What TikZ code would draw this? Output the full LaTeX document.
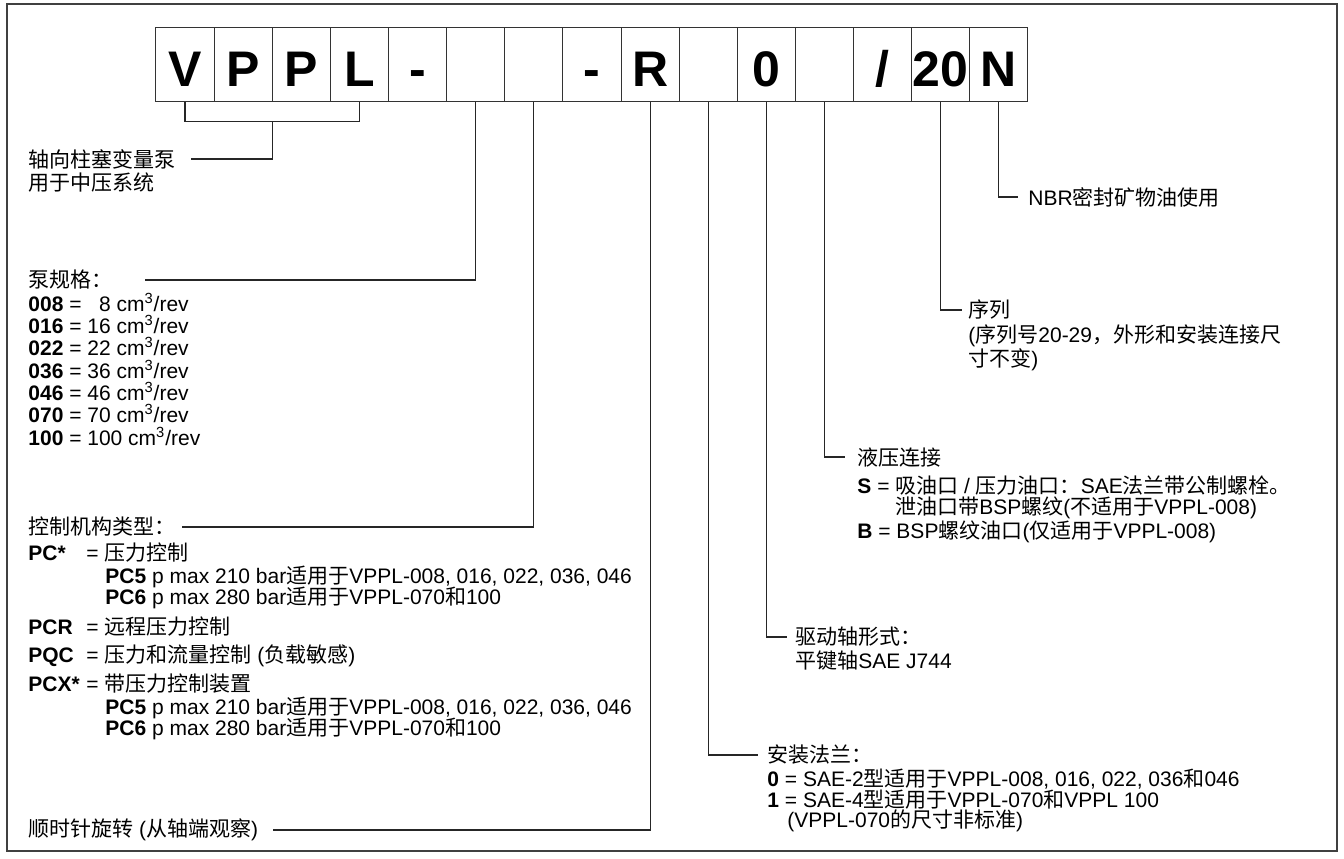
\documentclass[tikz,border=0pt]{standalone}
\usepackage{fontspec}
\setmainfont{Liberation Sans}
\newfontfamily\cjk{Noto Sans CJK SC}
\usetikzlibrary{positioning}

% switch to the CJK font for Han characters and full-width punctuation
\XeTeXinterchartokenstate=1
\newXeTeXintercharclass\hanzi
\makeatletter
\def\sethanzi#1#2{\count@=#1\relax
  \loop\XeTeXcharclass\count@=\hanzi\relax
  \ifnum\count@<#2\relax\advance\count@\@ne\repeat}
\sethanzi{"3000}{"303F}
\sethanzi{"4E00}{"9FFF}
\sethanzi{"FF00}{"FFEF}
\makeatother
\XeTeXinterchartoks 0 \hanzi = {\cjk}
\XeTeXinterchartoks 4095 \hanzi = {\cjk}
\XeTeXinterchartoks \hanzi 0 = {\rmfamily}
\XeTeXinterchartoks \hanzi 4095 = {\rmfamily}

\newcommand\ctl[1]{\makebox[29pt][l]{\textbf{#1}}}

\begin{document}
\begin{tikzpicture}[x=0.5pt, y=-0.5pt,
    codebox/.style={draw=black!80, line width=0.5pt, minimum width=29.07pt,
      minimum height=37pt, inner sep=0pt, text height=22pt, text depth=0pt,
      font=\fontsize{25}{25}\selectfont\bfseries},
    txt/.style={anchor=west, inner sep=0pt, font=\fontsize{10.5}{12}\selectfont},
    lead/.style={draw=black!85, line width=0.6pt}]

        \useasboundingbox (0,0) rectangle (1344,858);
        \draw[black!75, line width=0.8pt] (7,4) rectangle (1337,851);

        \foreach \c [count=\i] in {V,P,P,L,-,{},{},-,R,{},0,{},/,20,N}
            \node[codebox] (b\i) at ({156+58.13*(\i-0.5)}, 64) {\c};

        \node[txt] (pump) at (28,159) {轴向柱塞变量泵};
        \node[txt] (pumpb) at (28,183) {用于中压系统};

        \node[txt] (spec) at (28,280) {泵规格：};
        \foreach \n/\v [count=\k] in {008/\hphantom{1}8, 016/16, 022/22, 036/36, 046/46, 070/70, 100/100}
            \node[txt] (spec\k) at (28, {280+22.3*\k}) {\textbf{\n} = \v\ cm\textsuperscript{3}/rev};

        \node[txt] (ctrl) at (28,527) {控制机构类型：};
        \node[txt] (pc) at (28,553) {\ctl{PC*}= 压力控制};
        \node[txt] (pc5) at (105,577) {\textbf{PC5} p max 210 bar适用于VPPL-008, 016, 022, 036, 046};
        \node[txt] (pc6) at (105,598) {\textbf{PC6} p max 280 bar适用于VPPL-070和100};
        \node[txt] (pcr) at (28,627) {\ctl{PCR}= 远程压力控制};
        \node[txt] (pqc) at (28,656) {\ctl{PQC}= 压力和流量控制 (负载敏感)};
        \node[txt] (pcx) at (28,684) {\ctl{PCX*}= 带压力控制装置};
        \node[txt] (pcx5) at (105,708) {\textbf{PC5} p max 210 bar适用于VPPL-008, 016, 022, 036, 046};
        \node[txt] (pcx6) at (105,729) {\textbf{PC6} p max 280 bar适用于VPPL-070和100};

        \node[txt] (rot) at (28,830) {顺时针旋转 (从轴端观察)};

        \node[txt] (nbr) at (1028,197) {NBR密封矿物油使用};

        \node[txt] (ser) at (968,310) {序列};
        \node[txt] (ser2) at (968,336) {(序列号20-29，外形和安装连接尺};
        \node[txt] (ser3) at (968,360) {寸不变)};

        \node[txt] (hyd) at (857,457) {液压连接};
        \node[txt] (hyds) at (857,486) {\textbf{S} = 吸油口 / 压力油口：SAE法兰带公制螺栓。};
        \node[txt] (hyds2) at (857,508) {\hphantom{\textbf{S} = }泄油口带BSP螺纹(不适用于VPPL-008)};
        \node[txt] (hydb) at (857,532) {\textbf{B} = BSP螺纹油口(仅适用于VPPL-008)};

        \node[txt] (shaft) at (795,637) {驱动轴形式：};
        \node[txt] (shaft2) at (795,661) {平键轴SAE J744};

        \node[txt] (mnt) at (767,755) {安装法兰：};
        \node[txt] (mnt0) at (767,779) {\textbf{0} = SAE-2型适用于VPPL-008, 016, 022, 036和046};
        \node[txt] (mnt1) at (767,800) {\textbf{1} = SAE-4型适用于VPPL-070和VPPL 100};
        \node[txt] (mnt2) at (787,821) {(VPPL-070的尺寸非标准)};

        \draw[lead] (b1.south) -- ++(0,20) -| (b4.south);
        \draw[lead] (b2.south east) ++(0,20) |- ([xshift=7.5pt]pump.east);
        \draw[lead] (b6.south) |- ([xshift=16pt]spec.east);
        \draw[lead] (b7.south) |- ([xshift=3pt]ctrl.east);
        \draw[lead] (b9.south) |- ([xshift=7pt]rot.east);
        \draw[lead] (b10.south) |- ([xshift=-4.5pt]mnt.west);
        \draw[lead] (b11.south) |- ([xshift=-4pt]shaft.west);
        \draw[lead] (b12.south) |- ([xshift=-6pt]hyd.west);
        \draw[lead] (b14.south) |- ([xshift=-3pt]ser.west);
        \draw[lead] (b15.south) |- ([xshift=-5pt]nbr.west);
\end{tikzpicture}
\end{document}
